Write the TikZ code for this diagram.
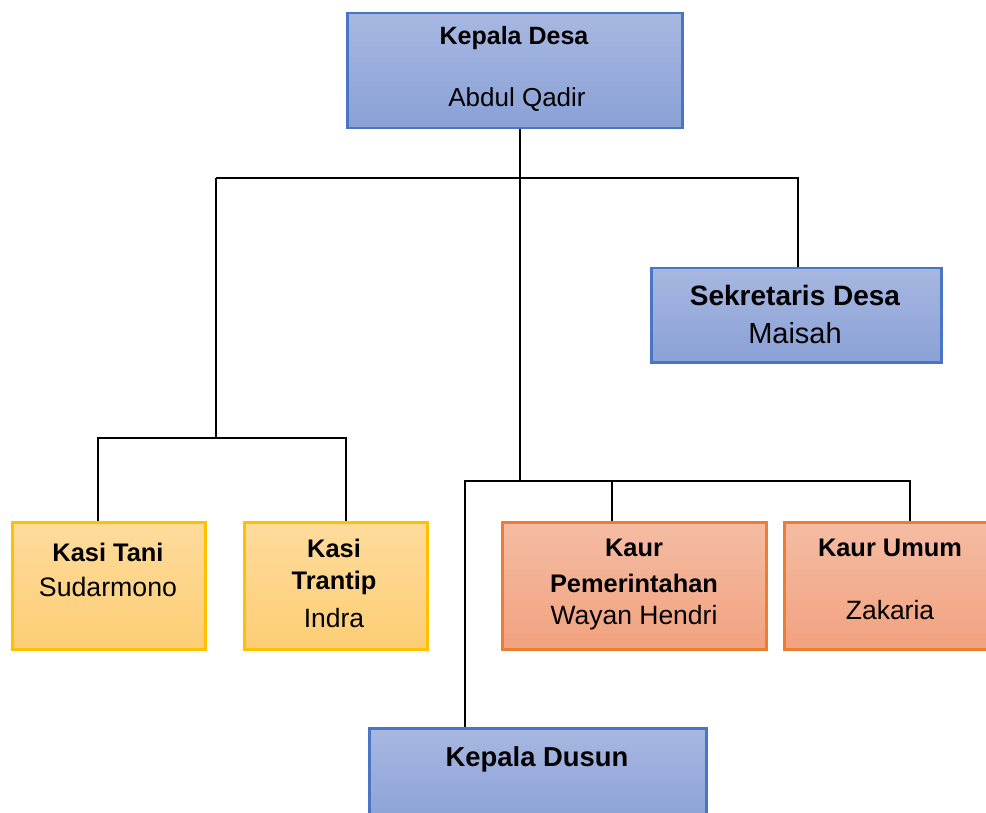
\documentclass[tikz,border=0pt]{standalone}
\usepackage{fontspec}
\setmainfont{Liberation Sans}
\definecolor{bluetop}{HTML}{A7B7E1}
\definecolor{bluebot}{HTML}{8AA1D6}
\definecolor{blueline}{HTML}{4A74C6}
\definecolor{yeltop}{HTML}{FFDB9C}
\definecolor{yelbot}{HTML}{FCCE74}
\definecolor{yelline}{HTML}{FFC000}
\definecolor{ortop}{HTML}{F4BCA3}
\definecolor{orbot}{HTML}{F2A27F}
\definecolor{orline}{HTML}{ED7D31}
\tikzset{
  box/.style={rectangle, line width=2.5pt, anchor=north west, inner sep=0pt},
  bluebox/.style={box, draw=blueline, top color=bluetop, bottom color=bluebot},
  yelbox/.style={box, draw=yelline, top color=yeltop, bottom color=yelbot},
  orbox/.style={box, draw=orline, top color=ortop, bottom color=orbot},
  conn/.style={draw=black, line width=2.5pt},
  txt/.style={inner sep=0pt, text=black}
}
\begin{document}
\begin{tikzpicture}[x=1pt,y=-1pt]
\useasboundingbox (0,0) rectangle (986,813);
\clip (0,0) rectangle (986,813);
% boxes
\node[bluebox, minimum width=335pt, minimum height=115pt] (kd) at (346,12) {};
\node[bluebox, minimum width=290pt, minimum height=94pt] (sd) at (650,267) {};
\node[yelbox, minimum width=193pt, minimum height=127pt] (kt) at (11,521) {};
\node[yelbox, minimum width=183pt, minimum height=127pt] (ktr) at (243,521) {};
\node[orbox, minimum width=264pt, minimum height=127pt] (kp) at (501,521) {};
\node[orbox, minimum width=213pt, minimum height=127pt] (ku) at (783,521) {};
\node[bluebox, minimum width=337pt, minimum height=100pt] (kdus) at (368,727) {};
% texts
\node[txt, font=\fontsize{25}{29}\selectfont\bfseries] (kdT) at (514,38) {Kepala Desa};
\node[txt, font=\fontsize{26}{30}\selectfont] (kdN) at (517,100) {Abdul Qadir};
\node[txt, font=\fontsize{28}{32}\selectfont\bfseries] (sdT) at (795,295) {Sekretaris Desa};
\node[txt, font=\fontsize{29}{33}\selectfont] (sdN) at (795,333) {Maisah};
\node[txt, font=\fontsize{25.4}{29}\selectfont\bfseries] (ktT) at (108,552) {Kasi Tani};
\node[txt, font=\fontsize{26.7}{31}\selectfont] (ktN) at (108,587) {Sudarmono};
\node[txt, font=\fontsize{25.4}{29}\selectfont\bfseries] (ktrT1) at (334,548) {Kasi};
\node[txt, font=\fontsize{25.4}{29}\selectfont\bfseries] (ktrT2) at (334,583) {Trantip};
\node[txt, font=\fontsize{26.5}{31}\selectfont] (ktrN) at (334,618) {Indra};
\node[txt, font=\fontsize{25.4}{29}\selectfont\bfseries] (kpT1) at (634,548) {Kaur};
\node[txt, font=\fontsize{25.4}{29}\selectfont\bfseries] (kpT2) at (634,583) {Pemerintahan};
\node[txt, font=\fontsize{26.5}{31}\selectfont] (kpN) at (634,618) {Wayan Hendri};
\node[txt, font=\fontsize{25.4}{29}\selectfont\bfseries] (kuT) at (890,548) {Kaur Umum};
\node[txt, font=\fontsize{26.5}{31}\selectfont] (kuN) at (890,610) {Zakaria};
\node[txt, font=\fontsize{27.4}{31}\selectfont\bfseries] (kdusT) at (537,759) {Kepala Dusun};
% junctions
\coordinate (c1) at (520,178);
\coordinate (c2) at (216,178);
\coordinate (c3) at (798,178);
\coordinate (c4) at (216,438);
\coordinate (c5) at (98,438);
\coordinate (c6) at (346,438);
\coordinate (c7) at (520,481);
\coordinate (c8) at (465,481);
\coordinate (c9) at (612,481);
\coordinate (c10) at (910,481);
% connectors
\draw[conn] (kd.south -| c1) -- (c7);
\draw[conn] (c2) -- (c3) -- (sd.north -| c3);
\draw[conn] (c2) -- (c4);
\draw[conn] (kt.north -| c5) -- (c5) -- (c6) -- (ktr.north -| c6);
\draw[conn] (kdus.north -| c8) -- (c8) -- (c10) -- (ku.north -| c10);
\draw[conn] (c9) -- (kp.north -| c9);
\end{tikzpicture}
\end{document}
